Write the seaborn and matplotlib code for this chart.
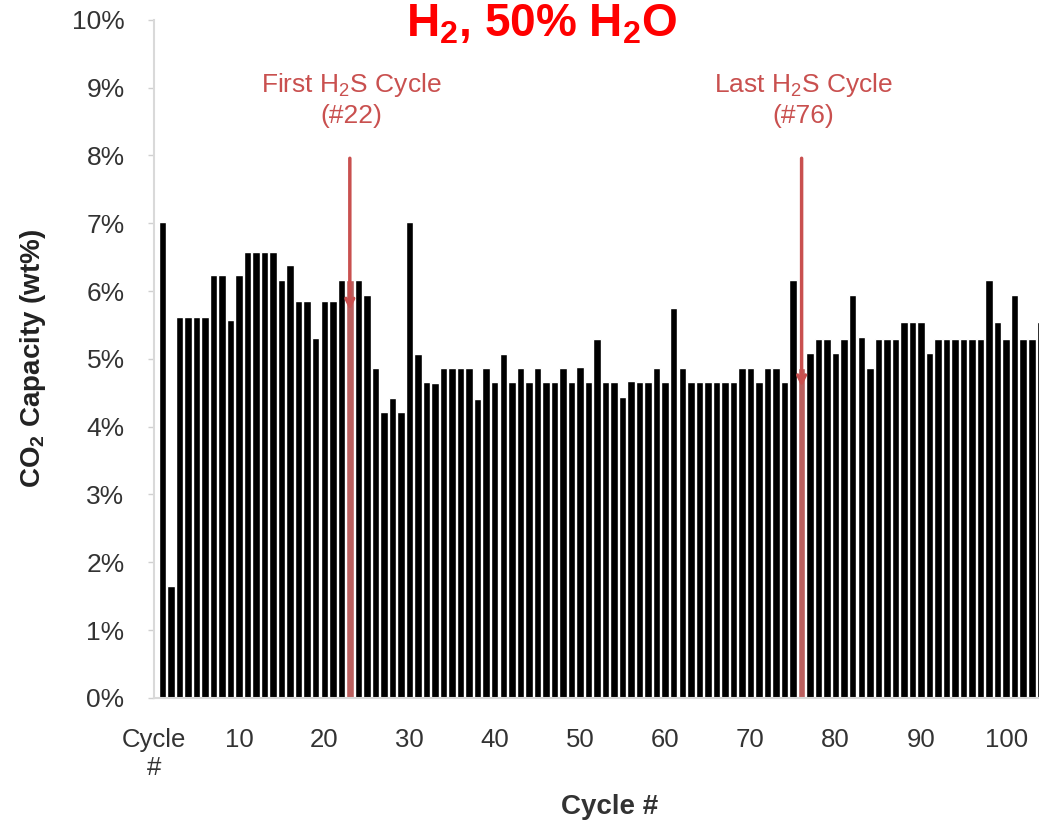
import pandas as pd
import matplotlib
matplotlib.use('Agg')
import matplotlib.pyplot as plt
import seaborn as sns

# CO2 capacity (wt%) per cycle
cycles = list(range(1, 105))
capacity = [
    7.02, 1.65, 5.62, 5.62, 5.62, 5.62, 6.24, 6.24, 5.57, 6.24,
    6.58, 6.58, 6.58, 6.58, 6.16, 6.38, 5.86, 5.86, 5.31, 5.86,
    5.86, 6.16, 6.16, 6.16, 5.94, 4.86, 4.22, 4.43, 4.22, 7.02,
    5.07, 4.66, 4.65, 4.86, 4.86, 4.86, 4.86, 4.41, 4.86, 4.66,
    5.07, 4.66, 4.86, 4.66, 4.86, 4.66, 4.66, 4.86, 4.66, 4.88,
    4.66, 5.29, 4.66, 4.66, 4.44, 4.67, 4.66, 4.66, 4.86, 4.66,
    5.75, 4.86, 4.66, 4.66, 4.66, 4.66, 4.66, 4.66, 4.86, 4.86,
    4.66, 4.86, 4.86, 4.66, 6.16, 4.86, 5.08, 5.29, 5.29, 5.08,
    5.29, 5.94, 5.32, 4.86, 5.29, 5.29, 5.29, 5.54, 5.54, 5.54,
    5.08, 5.29, 5.29, 5.29, 5.29, 5.29, 5.29, 6.16, 5.54, 5.29,
    5.94, 5.29, 5.29, 5.54,
]
h2s_cycles = [23, 76]          # cycles marked by the red arrows
h2s_labels = ['First H$_2$S Cycle\n(#22)', 'Last H$_2$S Cycle\n(#76)']
arrow_tips = [5.68, 4.55]
x_ticks = list(range(0, 101, 10))
x_ticklabels = ['Cycle\n#'] + [str(t) for t in x_ticks[1:]]
y_ticks = list(range(0, 11))
y_ticklabels = [f'{t}%' for t in y_ticks]

df = pd.DataFrame({'cycle': cycles, 'capacity': capacity})
df['marked'] = df['cycle'].isin(h2s_cycles)

red = '#c9504f'

sns.set_theme(style='white')
plt.rcParams['font.family'] = ['Liberation Sans', 'DejaVu Sans']
plt.rcParams['mathtext.fontset'] = 'custom'
plt.rcParams['mathtext.rm'] = 'Liberation Sans'
plt.rcParams['mathtext.bf'] = 'Liberation Sans:bold'

fig = plt.figure(figsize=(10.39, 8.22), dpi=100)
ax = fig.add_axes([0.148, 0.151, 0.852, 0.8248])

sns.barplot(data=df, x='cycle', y='capacity', hue='marked',
            palette={False: 'black', True: red}, native_scale=True,
            dodge=False, width=0.88, errorbar=None, legend=False, ax=ax)

for c, lab, tip in zip(h2s_cycles, h2s_labels, arrow_tips):
    ax.annotate('', xy=(c, tip), xytext=(c, 8.0),
                arrowprops=dict(arrowstyle='->', color=red, lw=2.5,
                                mutation_scale=14))
    ax.text(c + 0.2, 8.83, lab, ha='center', va='center', fontsize=19,
            color=red, linespacing=1.25)

ax.set_xlim(0, 103.85)
ax.set_ylim(0, 10)
ax.set_xticks(x_ticks)
ax.set_xticklabels(x_ticklabels)
ax.set_yticks(y_ticks)
ax.set_yticklabels(y_ticklabels)
ax.tick_params(axis='x', length=0, pad=22, labelsize=18.5, colors='#333333')
ax.tick_params(axis='y', length=4, width=1, color='#d0d0d0', pad=17,
               labelsize=19, labelcolor='#333333', left=True)

for s in ['top', 'right']:
    ax.spines[s].set_visible(False)
for s in ['left', 'bottom']:
    ax.spines[s].set_color('#d9d9d9')
    ax.spines[s].set_linewidth(1.5)

ax.set_xlabel('Cycle #', fontsize=20, fontweight='bold', color='#333333')
ax.xaxis.set_label_coords(0.515, -0.142)
ax.set_ylabel('CO$_\\mathbf{2}$ Capacity (wt%)', fontsize=20,
              fontweight='bold', color='#222222')
ax.yaxis.set_label_coords(-0.12, 0.5)

fig.text(0.521, 0.955, 'H$_\\mathbf{2}$, 50% H$_\\mathbf{2}$O', ha='center',
         va='baseline', fontsize=33, fontweight='bold', color='#ff0000')

fig.savefig('out.png', dpi=100)
